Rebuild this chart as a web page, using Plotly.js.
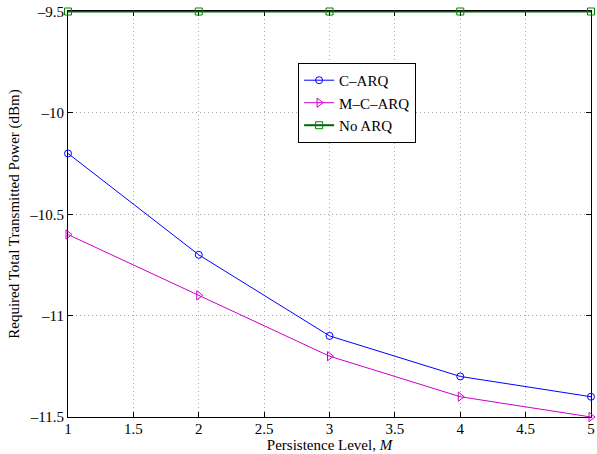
<!DOCTYPE html>
<html><head><meta charset="utf-8">
<script src="https://cdn.plot.ly/plotly-3.0.1.min.js"></script>
<style>body{margin:0;background:#fff}#c{width:597px;height:454px}</style>
</head><body><div id="c"></div>
<script>
const xM = [1, 2, 3, 4, 5];
const cArq = [-10.2, -10.7, -11.1, -11.3, -11.4];
const mcArq = [-10.6, -10.9, -11.2, -11.4, -11.5];
const noArq = [-9.5, -9.5, -9.5, -9.5, -9.5];
const xTicks = [1, 1.5, 2, 2.5, 3, 3.5, 4, 4.5, 5];
const xTickText = ['1', '1.5', '2', '2.5', '3', '3.5', '4', '4.5', '5'];
const yTicks = [-11.5, -11, -10.5, -10, -9.5];
const yTickText = ['\u201311.5', '\u201311', '\u201310.5', '\u201310', '\u20139.5'];

const font = {family: 'Liberation Serif', size: 15, color: '#000'};
const traces = [
  {x: xM, y: cArq, name: 'C\u2013ARQ', mode: 'lines+markers', line: {color: '#0000ff', width: 1}, cliponaxis: false,
   marker: {symbol: 'circle-open', size: 7, color: '#0000ff', line: {width: 1}}},
  {x: xM, y: mcArq, name: 'M\u2013C\u2013ARQ', mode: 'lines+markers', line: {color: '#cc00cc', width: 1}, cliponaxis: false,
   marker: {symbol: 'triangle-right-open', size: 8, color: '#cc00cc', line: {width: 1}}},
  {x: xM, y: noArq, name: 'No ARQ', mode: 'lines+markers', line: {color: '#006600', width: 2}, cliponaxis: false,
   marker: {symbol: 'square-open', size: 7, color: '#008000', line: {width: 1}}}
];
const axisCommon = {showline: true, linecolor: '#000', linewidth: 1, mirror: 'ticks', ticks: 'inside', ticklen: 5,
  tickcolor: '#000', showgrid: true, gridcolor: '#aaaaaa', griddash: '1px,3px', gridwidth: 1, zeroline: false,
  tickfont: font, layer: 'below traces'};
const layout = {
  width: 597, height: 454, paper_bgcolor: '#fff', plot_bgcolor: '#fff',
  margin: {l: 68, r: 6, t: 11, b: 37},
  font: font, showlegend: true,
  legend: {x: 0.44, y: 0.872, xanchor: 'left', yanchor: 'top', bgcolor: '#fff', bordercolor: '#000', borderwidth: 1,
    font: {family: 'Liberation Serif', size: 15, color: '#000'}, tracegroupgap: 0, itemwidth: 30},
  xaxis: Object.assign({}, axisCommon, {range: [1, 5], tickvals: xTicks, ticktext: xTickText, ticklabelstandoff: -2,
    title: {text: 'Persistence Level, <i>M</i>', font: font, standoff: 0}}),
  yaxis: Object.assign({}, axisCommon, {range: [-11.5, -9.4975], tickvals: yTicks, ticktext: yTickText,
    title: {text: 'Required Total Transmitted Power (dBm)', font: font, standoff: 6}})
};
Plotly.newPlot('c', traces, layout, {displayModeBar: false, staticPlot: true});
</script></body></html>
